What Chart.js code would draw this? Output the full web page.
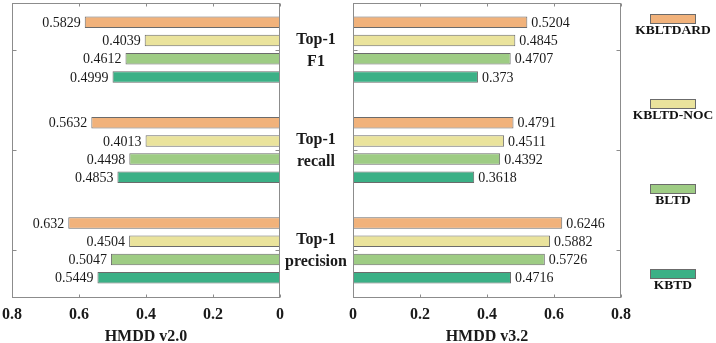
<!DOCTYPE html>
<html>
<head>
<meta charset="utf-8">
<script src="https://cdn.jsdelivr.net/npm/chart.js@4.4.0/dist/chart.umd.min.js"></script>
<style>
html, body { margin: 0; padding: 0; background: #fff; overflow: hidden; }
#wrap { position: relative; width: 716px; height: 343px; overflow: hidden; }
#wrap canvas { position: absolute; left: 0; top: 0; }
.lg-box { position: absolute; left: 650px; width: 44px; height: 8px; border: 1px solid #6b6b6b; }
.lg-txt { position: absolute; left: 626px; width: 94px; text-align: center; font: bold 13.5px "Liberation Serif"; color: #111; line-height: 16px; white-space: nowrap; }
</style>
</head>
<body>
<div id="wrap">
  <canvas id="left" width="716" height="345"></canvas>
  <canvas id="right" width="716" height="345"></canvas>
</div>
<script>
// categories (top to bottom) and methods
var metrics = [['Top-1', 'F1'], ['Top-1', 'recall'], ['Top-1', 'precision']];
var methods = ['KBLTDARD', 'KBLTD-NOC', 'BLTD', 'KBTD'];
var colors = ['#F1B27B', '#EAE39C', '#9ECC84', '#3BB086'];
var xTicks = [0, 0.2, 0.4, 0.6, 0.8];

// HMDD v2.0 (F1, recall, precision)
var v2KBLTDARD = [0.5829, 0.5632, 0.632];
var v2KBLTDNOC = [0.4039, 0.4013, 0.4504];
var v2BLTD     = [0.4612, 0.4498, 0.5047];
var v2KBTD     = [0.4999, 0.4853, 0.5449];

// HMDD v3.2 (F1, recall, precision)
var v3KBLTDARD = [0.5204, 0.4791, 0.6246];
var v3KBLTDNOC = [0.4845, 0.4511, 0.5882];
var v3BLTD     = [0.4707, 0.4392, 0.5726];
var v3KBTD     = [0.373, 0.3618, 0.4716];

var serif = 'Liberation Serif';

function makeDatasets(series) {
    return series.map(function(vals, k) {
        return {
            label: methods[k],
            data: vals.map(function(v, i) { return {x: v, y: i + 1}; }),
            backgroundColor: colors[k],
            borderColor: '#6b6b6b',
            borderWidth: 1,
            borderSkipped: false,
            categoryPercentage: 0.726,
            barPercentage: 0.63
        };
    });
}

// MATLAB-like box with inward ticks
var framePlugin = {
    id: 'frame',
    afterDatasetsDraw: function(chart) {
        var a = chart.chartArea, ctx = chart.ctx;
        var xs = chart.scales.x, ys = chart.scales.y;
        var l = Math.round(a.left) + 0.5, r = Math.round(a.right) - 0.5;
        var t = Math.round(a.top) + 0.5, b = Math.round(a.bottom) - 0.5;
        ctx.save();
        ctx.strokeStyle = '#8c8c8c';
        ctx.lineWidth = 1;
        ctx.strokeRect(l, t, r - l, b - t);
        ctx.beginPath();
        xTicks.forEach(function(v) {
            var px = Math.round(xs.getPixelForValue(v)) + 0.5;
            ctx.moveTo(px, t); ctx.lineTo(px, t + 3);
            ctx.moveTo(px, b); ctx.lineTo(px, b - 3);
        });
        metrics.forEach(function(m, i) {
            var py = Math.round(ys.getPixelForValue(i + 1)) + 0.5;
            ctx.moveTo(l, py); ctx.lineTo(l + 4, py);
            ctx.moveTo(r, py); ctx.lineTo(r - 4, py);
        });
        ctx.stroke();
        ctx.restore();
    }
};

var valuePlugin = {
    id: 'values',
    afterDatasetsDraw: function(chart, args, opts) {
        var ctx = chart.ctx;
        ctx.save();
        ctx.font = '14px "' + serif + '"';
        ctx.fillStyle = '#1a1a1a';
        ctx.textBaseline = 'middle';
        ctx.textAlign = opts.side === 'left' ? 'right' : 'left';
        chart.data.datasets.forEach(function(ds, k) {
            chart.getDatasetMeta(k).data.forEach(function(bar, i) {
                var dx = opts.side === 'left' ? -4 : 4;
                ctx.fillText(String(ds.data[i].x), bar.x + dx, bar.y + 1);
            });
        });
        ctx.restore();
    }
};

var centerPlugin = {
    id: 'centerLabels',
    afterDraw: function(chart) {
        var ctx = chart.ctx, ys = chart.scales.y;
        ctx.save();
        ctx.font = 'bold 16px "' + serif + '"';
        ctx.fillStyle = '#1a1a1a';
        ctx.textAlign = 'center';
        ctx.textBaseline = 'middle';
        metrics.forEach(function(lines, i) {
            var py = ys.getPixelForValue(i + 1);
            ctx.fillText(lines[0], 316, py - 10);
            ctx.fillText(lines[1], 316, py + 12);
        });
        ctx.restore();
    }
};

function makeOptions(title, reverse, pad, side) {
    return {
        indexAxis: 'y',
        responsive: false,
        animation: false,
        devicePixelRatio: 1,
        layout: { padding: pad },
        scales: {
            x: {
                type: 'linear',
                min: 0,
                max: 0.8,
                reverse: reverse,
                afterBuildTicks: function(scale) {
                    scale.ticks = xTicks.map(function(v) { return {value: v}; });
                },
                grid: { display: false, drawTicks: false },
                border: { display: false },
                ticks: {
                    padding: 9,
                    maxRotation: 0,
                    color: '#1a1a1a',
                    font: { family: serif, size: 16, weight: 'bold', lineHeight: 1 },
                    callback: function(v) { return String(Math.round(v * 10) / 10); }
                },
                title: {
                    display: true,
                    text: title,
                    color: '#1a1a1a',
                    padding: { top: -3, bottom: 0 },
                    font: { family: serif, size: 16, weight: 'bold', lineHeight: 1 }
                }
            },
            y: {
                type: 'linear',
                min: 0.535,
                max: 3.475,
                offset: false,
                bounds: 'data',
                reverse: true,
                display: false,
                grid: { offset: false },
                afterBuildTicks: function(scale) {
                    scale.ticks = metrics.map(function(m, i) { return {value: i + 1}; });
                }
            }
        },
        plugins: {
            legend: { display: false },
            tooltip: { enabled: false },
            values: { side: side }
        }
    };
}

new Chart(document.getElementById('left').getContext('2d'), {
    type: 'bar',
    data: { datasets: makeDatasets([v2KBLTDARD, v2KBLTDNOC, v2BLTD, v2KBTD]) },
    options: makeOptions('HMDD v2.0', true, {left: 12, right: 436, top: 3, bottom: 0}, 'left'),
    plugins: [framePlugin, valuePlugin, centerPlugin]
});

new Chart(document.getElementById('right').getContext('2d'), {
    type: 'bar',
    data: { datasets: makeDatasets([v3KBLTDARD, v3KBLTDNOC, v3BLTD, v3KBTD]) },
    options: makeOptions('HMDD v3.2', false, {left: 353, right: 95, top: 3, bottom: 0}, 'right'),
    plugins: [framePlugin, valuePlugin]
});

// legend on the right
var wrap = document.getElementById('wrap');
methods.forEach(function(name, k) {
    var top = 14 + k * 85;
    var box = document.createElement('div');
    box.className = 'lg-box';
    box.style.top = top + 'px';
    box.style.background = colors[k];
    wrap.appendChild(box);
    var txt = document.createElement('div');
    txt.className = 'lg-txt';
    txt.style.top = (top + 8) + 'px';
    txt.textContent = name;
    wrap.appendChild(txt);
});
</script>
</body>
</html>
